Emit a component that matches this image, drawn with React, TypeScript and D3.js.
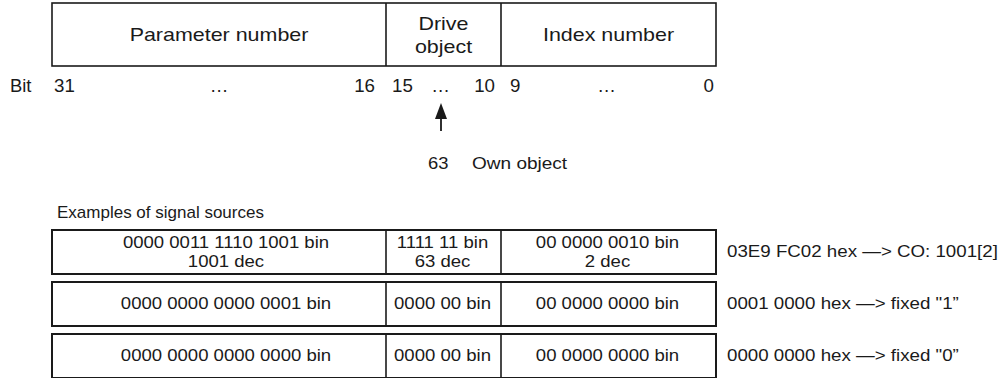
// Parameter word layout diagram (bit fields + examples of signal sources).

import * as d3 from "d3";

const fieldNames = [["Parameter number"], ["Drive", "object"], ["Index number"]];
const fieldBits = [16, 6, 10];
const bitStart = ["31", "15", "9"];
const bitEnd = ["16", "10", "0"];

const paramValues = [
  ["0000 0011 1110 1001 bin", "1001 dec"],
  ["0000 0000 0000 0001 bin"],
  ["0000 0000 0000 0000 bin"],
];
const driveValues = [["1111 11 bin", "63 dec"], ["0000 00 bin"], ["0000 00 bin"]];
const indexValues = [
  ["00 0000 0010 bin", "2 dec"],
  ["00 0000 0000 bin"],
  ["00 0000 0000 bin"],
];
const notes = [
  "03E9 FC02 hex \u2014> CO: 1001[2]",
  "0001 0000 hex \u2014> fixed \"1\u201d",
  "0000 0000 hex \u2014> fixed \"0\u201d",
];

const ownObjectValue = "63";
const ownObjectLabel = "Own object";

const width = 1002;
const height = 378;
const font = "'Liberation Sans', Arial, sans-serif";
const ink = "#1a1a1a";

// column edges (drawn widths are not proportional to bits)
const edges = [52, 386, 501, 716];
// inset of first / last bit label inside each field
const startInset = [2, 6, 9];
const endInset = [11, 6, 2];
// table text sits a little right of centre in the first column
const colShift = [7, -1, -1];

// text that is slightly wider than the font (source was stretched)
function T(props: {
  x: number;
  y: number;
  size: number;
  sx?: number;
  anchor?: string;
  children: any;
}) {
  return (
    <text
      transform={`translate(${props.x},${props.y}) scale(${props.sx ?? 1},1)`}
      textAnchor={props.anchor ?? "start"}
      dominantBaseline="central"
      fontSize={props.size}
    >
      {props.children}
    </text>
  );
}

export default function App() {
  const rowY = d3
    .scaleBand<number>()
    .domain(d3.range(paramValues.length))
    .range([230, 378])
    .paddingInner(8 / 52);

  const lineText = (lines: string[], cx: number, cy: number, size: number, gap: number, sx: number) =>
    lines.map((t, i) => (
      <T key={i} x={cx} y={cy + (i - (lines.length - 1) / 2) * gap} size={size} sx={sx} anchor="middle">
        {t}
      </T>
    ));

  const arrowX = 441;
  const bitY = 86;

  return (
    <svg
      width={width}
      height={height}
      style={{ position: "absolute", left: 0, top: 0, background: "#fff" }}
      fontFamily={font}
      fill={ink}
    >
      {/* top register */}
      <rect
        x={edges[0]}
        y={3}
        width={edges[3] - edges[0]}
        height={63}
        fill="none"
        stroke={ink}
        strokeWidth={1.6}
      />
      {edges.slice(1, -1).map((e, i) => (
        <line key={i} x1={e} x2={e} y1={3} y2={66} stroke={ink} strokeWidth={1.6} />
      ))}
      {fieldNames.map((lines, i) => (
        <g key={i}>{lineText(lines, (edges[i] + edges[i + 1]) / 2, 35, 18.5, 23, 1.16)}</g>
      ))}

      {/* bit numbering */}
      <T x={10} y={bitY} size={17.5} sx={1.05}>
        Bit
      </T>
      {fieldBits.map((b, i) => (
        <g key={i}>
          <T x={edges[i] + startInset[i]} y={bitY} size={17.5} sx={1.07}>
            {bitStart[i]}
          </T>
          <T x={(edges[i] + edges[i + 1]) / 2 - (i === 1 ? 3 : i === 2 ? 2 : 0)} y={bitY} size={17.5} sx={1.07} anchor="middle">
            {"\u2026"}
          </T>
          <T x={edges[i + 1] - endInset[i]} y={bitY} size={17.5} sx={1.07} anchor="end">
            {bitEnd[i]}
          </T>
        </g>
      ))}

      {/* arrow to drive object */}
      <line x1={arrowX} x2={arrowX} y1={116} y2={131} stroke={ink} strokeWidth={1.8} />
      <path d={`M${arrowX},103 L${arrowX - 6},119 L${arrowX + 6},119 Z`} fill={ink} />
      <T x={428} y={163} size={17} sx={1.08}>
        {ownObjectValue}
      </T>
      <T x={472} y={163} size={17} sx={1.12}>
        {ownObjectLabel}
      </T>

      <T x={57} y={212} size={17}>
        Examples of signal sources
      </T>

      {/* examples table */}
      {paramValues.map((_, r) => {
        const y0 = rowY(r) as number;
        const bh = rowY.bandwidth();
        const cy = y0 + bh / 2;
        const cols = [paramValues[r], driveValues[r], indexValues[r]];
        return (
          <g key={r}>
            <rect
              x={edges[0]}
              y={y0}
              width={edges[3] - edges[0]}
              height={bh}
              fill="none"
              stroke={ink}
              strokeWidth={2}
            />
            {edges.slice(1, -1).map((e, i) => (
              <line key={i} x1={e} x2={e} y1={y0} y2={y0 + bh} stroke={ink} strokeWidth={1.6} />
            ))}
            {cols.map((lines, c) => (
              <g key={c}>
                {lineText(lines, (edges[c] + edges[c + 1]) / 2 + colShift[c], cy, 15.6, 19, 1.19)}
              </g>
            ))}
            <T x={727} y={cy} size={15.6} sx={1.2}>
              {notes[r]}
            </T>
          </g>
        );
      })}
    </svg>
  );
}
